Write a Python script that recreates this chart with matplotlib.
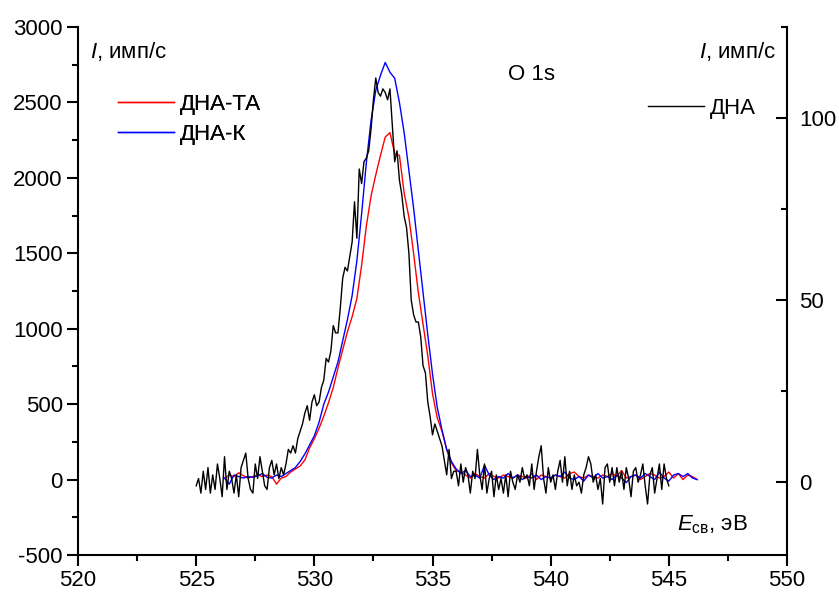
import numpy as np
import matplotlib
matplotlib.use('Agg')
import matplotlib.pyplot as plt
from matplotlib.ticker import MultipleLocator

plt.rcParams['font.family'] = ['Liberation Sans', 'DejaVu Sans']
plt.rcParams['mathtext.fontset'] = 'custom'
plt.rcParams['mathtext.rm'] = 'Liberation Sans'
plt.rcParams['mathtext.it'] = 'Liberation Sans:italic'
plt.rcParams['axes.unicode_minus'] = False

# ДНА-К (blue), left axis, step 0.2 eV from 526.2
blue_start = 526.2
blue_vals = [10, -30, 30, 20, 10, 20, 15, 25, 40, 15,
             10, 30, 20, 40, 60, 80, 120, 170, 230, 290,
             380, 500, 580, 680, 780, 920, 1060, 1220, 1450, 1760,
             2100, 2380, 2580, 2680, 2765, 2700, 2660, 2500, 2300, 2050,
             1800, 1520, 1240, 960, 700, 480, 330, 200, 120, 70,
             40, 60, 20, 30, 10, 95, 30, 0, 20, 10,
             40, 10, 30, 0, 20, 10, 30, 0, 20, 10,
             30, 20, 50, 10, 0, 20, -10, 30, 10, 40,
             10, 20, 0, 30, 10, -20, 20, 30, 10, 40,
             20, 0, 50, 10, -10, 30, 40, 20, 40, 10,
             0]

# ДНА-ТА (red), left axis, step 0.2 eV from 526.2
red_start = 526.2
red_vals = [10, 30, 20, 45, 25, 10, 20, 30, 20, 30,
            20, -30, 10, 20, 50, 70, 90, 130, 210, 270,
            340, 420, 510, 610, 740, 860, 980, 1080, 1200, 1420,
            1680, 1880, 2020, 2150, 2270, 2300, 2160, 2150, 1900, 1740,
            1500, 1240, 1030, 820, 570, 410, 320, 200, 110, 60,
            50, 30, 10, 40, 20, 10, 40, 20, 10, 30,
            20, 10, 30, 20, 10, 40, 0, 30, 20, 10,
            30, 20, 10, 40, 50, 20, 10, 30, 20, 10,
            30, 20, 40, 20, 60, 10, 20, 30, 0, 20,
            40, 30, 10, 20, 50, 10, 40, 0, 30, 20,
            0]

# ДНА (black), right axis, step 0.1 eV from 525.0
black_start = 525.0
black_vals = [-1, 1, -3, 3, -2, 4, -3, 2, -2, 5,
              1, -4, 7, -2, 3, 1, -3, 2, -4, 4,
              6, 8, 1, -2, -3, 5, 1, 7, 3, -1,
              -2, 4, 6, 2, 5, 1, 4, 2, 5, 9,
              8, 10, 8, 12, 14, 16, 19, 21, 17, 22,
              24, 21, 22, 26, 28, 34, 33, 36, 43, 41,
              41, 48, 56, 59, 58, 62, 66, 77, 67, 86,
              82, 88, 89, 91, 97, 105, 111, 107, 106, 108,
              107, 105, 108, 98, 88, 91, 83, 79, 73, 70,
              63, 50, 46, 44, 44, 40, 32, 30, 22, 18,
              13, 16, 14, 12, 10, 6, 2, 9, 1, 3,
              3, -1, 5, 0, 4, 2, -3, 3, 1, 9,
              2, -2, 5, -3, 1, 3, -4, 2, -2, 1,
              -3, 2, -4, 3, 0, -2, 2, 0, 4, 1,
              2, -1, 5, -2, 3, 7, 10, 1, -3, 4,
              0, 2, -2, 3, 6, 0, 7, -1, 3, -2,
              2, -1, 0, -3, 2, 4, 7, 5, 0, 2,
              -2, 1, -6, 4, 5, 0, 4, -1, 4, 0,
              3, -2, 4, 1, -4, 3, 4, 0, 2, 5,
              -1, -6, 2, 4, -3, 1, 5, -2, 5, 1,
              -1]

e_blue = blue_start + 0.2 * np.arange(len(blue_vals))
e_red = red_start + 0.2 * np.arange(len(red_vals))
e_black = black_start + 0.1 * np.arange(len(black_vals))

fig = plt.figure(figsize=(8.39, 5.99), dpi=100)
ax = fig.add_axes([78/839, 1-555/599, (787-78)/839, (555-27)/599])
ax2 = ax.twinx()

l1, = ax.plot(e_red, red_vals, color='#ff0000', lw=1.0, label='ДНА-ТА')
l2, = ax.plot(e_blue, blue_vals, color='#0000ff', lw=1.0, label='ДНА-К')
l3, = ax2.plot(e_black, black_vals, color='black', lw=1.0, label='ДНА')

ax.set_xlim(520, 550)
ax.set_ylim(-500, 3000)
ax2.set_ylim(-20, 125)

ax.xaxis.set_major_locator(MultipleLocator(5))
ax.xaxis.set_minor_locator(MultipleLocator(2.5))
ax.yaxis.set_major_locator(MultipleLocator(500))
ax.yaxis.set_minor_locator(MultipleLocator(250))
ax2.yaxis.set_major_locator(MultipleLocator(50))
ax2.yaxis.set_minor_locator(MultipleLocator(25))

for a in (ax, ax2):
    a.spines['top'].set_visible(False)
    for s in a.spines.values():
        s.set_linewidth(1.5)
ax.spines['right'].set_visible(False)
ax2.spines['left'].set_visible(False)
ax2.spines['bottom'].set_visible(False)

ax.tick_params(which='major', direction='out', length=8, width=1.5, labelsize=16, pad=3)
ax.tick_params(which='minor', direction='out', length=4, width=1.5)
ax2.tick_params(which='major', direction='in', length=8, width=1.5, labelsize=16, pad=9)
ax2.tick_params(which='minor', direction='in', length=4, width=1.5)

fig.text(90/839, 1-58/599, '$I$, имп/с', fontsize=16, ha='left', va='baseline')
fig.text(776/839, 1-58/599, '$I$, имп/с', fontsize=16, ha='right', va='baseline')
fig.text(508/839, 1-80/599, 'O 1s', fontsize=16, ha='left', va='baseline')
fig.text(677/839, 1-530/599, '$E_{\\rm св}$, эВ', fontsize=16, ha='left', va='baseline')

leg1 = ax.legend(handles=[l1, l2], loc='upper left', bbox_to_anchor=(118/839, 1-94/599),
                 bbox_transform=fig.transFigure, frameon=False, fontsize=16,
                 handlelength=2.5, handletextpad=0.3, labelspacing=0.4, borderpad=0, borderaxespad=0)
ax.add_artist(leg1)
leg2 = ax2.legend(handles=[l3], loc='upper left', bbox_to_anchor=(648/839, 1-98/599),
                  bbox_transform=fig.transFigure, frameon=False, fontsize=16,
                  handlelength=2.5, handletextpad=0.3, borderpad=0, borderaxespad=0)

fig.savefig('out.png', dpi=100)
